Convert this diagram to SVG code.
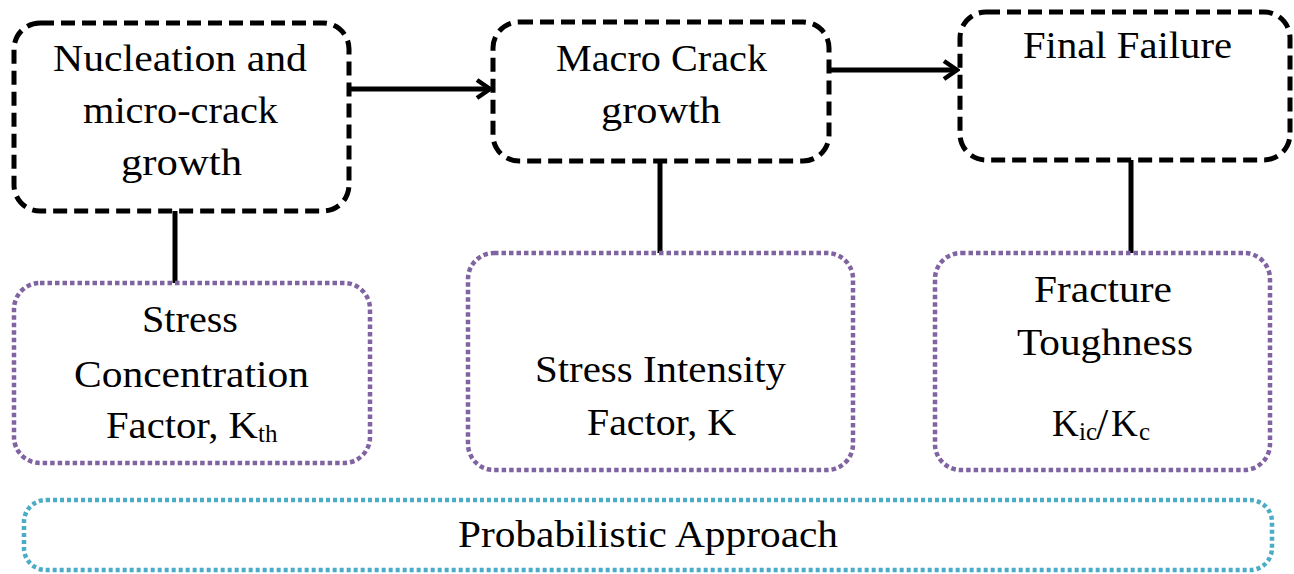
<svg xmlns="http://www.w3.org/2000/svg" width="1294" height="574" viewBox="0 0 1294 574">
  <style>
    .stage { fill: #ffffff; stroke: #000000; stroke-width: 5; stroke-dasharray: 14 7; }
    .param { fill: #ffffff; stroke: #8064A2; stroke-width: 4.5; stroke-dasharray: 4.5 3; }
    .method { fill: #ffffff; stroke: #4BACC6; stroke-width: 4.5; stroke-dasharray: 4 3; }
    .link { stroke: #000000; stroke-width: 5; fill: none; }
    text { font-family: "Liberation Serif", "Times New Roman", serif; font-size: 37px; fill: #000000; }
    .sub { font-size: 25px; }
  </style>
  <defs>
    <marker id="chevron" markerUnits="userSpaceOnUse" markerWidth="24" markerHeight="24" refX="19" refY="12" orient="auto">
      <path d="M6,3 L19,12 L6,21" fill="none" stroke="#000000" stroke-width="4.5" stroke-linejoin="miter"/>
    </marker>
  </defs>

  <!-- connectors -->
  <g id="connectors">
    <line class="link" x1="349" y1="89" x2="490" y2="89" marker-end="url(#chevron)"/>
    <line class="link" x1="829" y1="70" x2="957" y2="70" marker-end="url(#chevron)"/>
    <line class="link" x1="175" y1="211" x2="175" y2="283"/>
    <line class="link" x1="660" y1="161" x2="660" y2="253"/>
    <line class="link" x1="1131" y1="160" x2="1131" y2="253"/>
  </g>

  <!-- crack life stages -->
  <g id="nucleation">
    <rect class="stage" x="14" y="23" width="335" height="188" rx="26"/>
    <text x="53" y="71" textLength="254" lengthAdjust="spacingAndGlyphs">Nucleation and</text>
    <text x="83" y="123" textLength="195" lengthAdjust="spacingAndGlyphs">micro-crack</text>
    <text x="121" y="175" textLength="121" lengthAdjust="spacingAndGlyphs">growth</text>
  </g>
  <g id="macro-crack">
    <rect class="stage" x="493" y="22" width="336" height="139" rx="26"/>
    <text x="556" y="71" textLength="211" lengthAdjust="spacingAndGlyphs">Macro Crack</text>
    <text x="601" y="123" textLength="120" lengthAdjust="spacingAndGlyphs">growth</text>
  </g>
  <g id="final-failure">
    <rect class="stage" x="960" y="12" width="330" height="148" rx="26"/>
    <text x="1023" y="58" textLength="209" lengthAdjust="spacingAndGlyphs">Final Failure</text>
  </g>

  <!-- governing parameters -->
  <g id="stress-concentration">
    <rect class="param" x="14" y="283" width="356" height="180" rx="26"/>
    <text x="142" y="332" textLength="96" lengthAdjust="spacingAndGlyphs">Stress</text>
    <text x="74" y="387" textLength="235" lengthAdjust="spacingAndGlyphs">Concentration</text>
    <text x="106" y="438" textLength="152" lengthAdjust="spacingAndGlyphs">Factor, K</text>
    <text class="sub" x="258" y="442">th</text>
  </g>
  <g id="stress-intensity">
    <rect class="param" x="468" y="253" width="385" height="217" rx="26"/>
    <text x="535" y="382" textLength="251" lengthAdjust="spacingAndGlyphs">Stress Intensity</text>
    <text x="587" y="435" textLength="149" lengthAdjust="spacingAndGlyphs">Factor, K</text>
  </g>
  <g id="fracture-toughness">
    <rect class="param" x="935" y="253" width="335" height="217" rx="26"/>
    <text x="1034" y="302" textLength="138" lengthAdjust="spacingAndGlyphs">Fracture</text>
    <text x="1017" y="355" textLength="176" lengthAdjust="spacingAndGlyphs">Toughness</text>
    <text x="1052" y="436">K<tspan class="sub" x="1079" dy="4">ic</tspan><tspan x="1096" dy="-1" font-size="44">/</tspan><tspan x="1111" dy="-3">K</tspan><tspan class="sub" x="1139" dy="4">c</tspan></text>
  </g>

  <!-- overall method -->
  <g id="probabilistic">
    <rect class="method" x="24" y="500" width="1248" height="70" rx="22"/>
    <text x="458" y="547" textLength="380" lengthAdjust="spacingAndGlyphs">Probabilistic Approach</text>
  </g>
</svg>
